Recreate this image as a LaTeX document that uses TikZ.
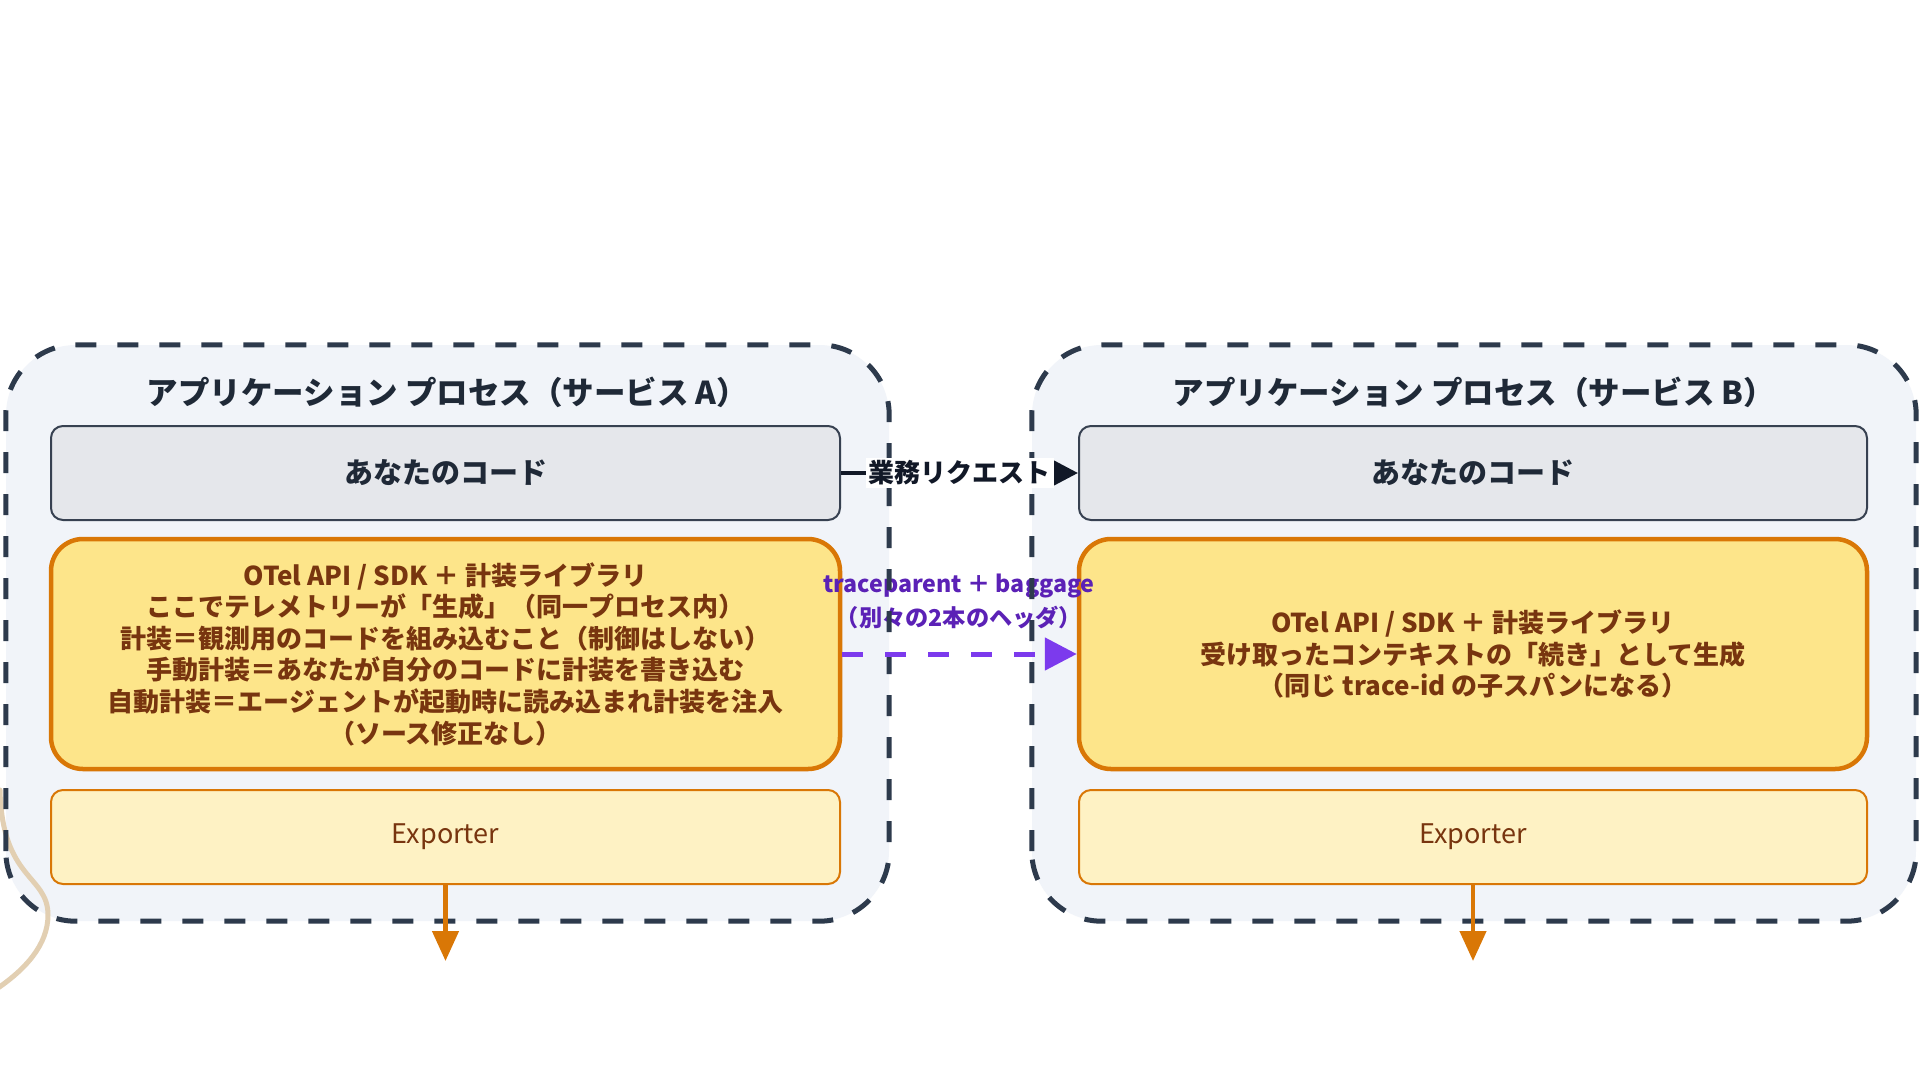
\documentclass[tikz,border=0pt]{standalone}
\usepackage{fontspec}
\setmainfont{Noto Sans CJK JP}
\usetikzlibrary{arrows.meta}
\definecolor{contfill}{HTML}{F1F4F9}
\definecolor{contline}{HTML}{2D3A4C}
\definecolor{codefill}{HTML}{E5E7EB}
\definecolor{codeline}{HTML}{374151}
\definecolor{otelfill}{HTML}{FDE58A}
\definecolor{otelline}{HTML}{D97706}
\definecolor{expfill}{HTML}{FEF2C4}
\definecolor{browntext}{HTML}{78350F}
\definecolor{inktext}{HTML}{1F2937}
\definecolor{reqline}{HTML}{111827}
\definecolor{purpline}{HTML}{7C3AED}
\definecolor{purptext}{HTML}{5B21B6}
\definecolor{beigeline}{HTML}{E2CFB2}
\tikzset{
  contbox/.style={fill=contfill, draw=none, rounded corners=70pt, inner sep=0pt,
    minimum width=883pt, minimum height=576pt},
  contborder/.style={draw=contline, line width=5pt, rounded corners=70pt,
    dash pattern=on 21pt off 21pt},
  titletext/.style={text=inktext, font=\bfseries\fontsize{31.5}{36}\selectfont, inner sep=0pt},
  codebox/.style={fill=codefill, draw=codeline, line width=2pt, rounded corners=12pt,
    minimum width=789pt, minimum height=94pt, inner sep=0pt, text=inktext,
    font=\bfseries\fontsize{29}{32}\selectfont},
  otelbox/.style={fill=otelfill, draw=otelline, line width=4.5pt, rounded corners=32pt,
    minimum width=789pt, minimum height=230pt, inner sep=0pt, text=browntext, align=center,
    font=\bfseries\fontsize{26}{31.6}\selectfont},
  expbox/.style={fill=expfill, draw=otelline, line width=2pt, rounded corners=12pt,
    minimum width=789pt, minimum height=94pt, inner sep=0pt, text=browntext,
    font=\fontsize{27}{32}\selectfont},
  exparrow/.style={draw=otelline, line width=4.5pt, -{Triangle[length=30pt,width=26pt]}},
  reqarrow/.style={draw=reqline, line width=4.5pt, -{Triangle[length=26pt,width=26pt]}},
  reqlabel/.style={fill=white, text=reqline, inner sep=3pt,
    font=\bfseries\fontsize{26}{30}\selectfont},
  purparrow/.style={draw=purpline, line width=5pt, dash pattern=on 21pt off 22pt,
    -{Triangle[length=32pt,width=32pt]}},
  purplabel/.style={text=purptext, align=center, inner sep=0pt,
    font=\bfseries\fontsize{23.2}{34}\selectfont},
}
\begin{document}
\begin{tikzpicture}[x=1pt,y=-1pt]
\useasboundingbox[fill=white] (0,0) rectangle (1920,1080);

% container fills
\node[contbox] (ca) at (447.5,633) {};
\node[contbox, minimum width=884pt] (cb) at (1474,633) {};

% faint shape at the left edge
\begin{scope}
  \clip (0,0) rectangle (1920,1080);
  \draw[beigeline, line width=5pt, line cap=round]
    (0,790) .. controls (2,880) and (48,875) .. (48,915)
    .. controls (48,945) and (25,970) .. (-5,990);
\end{scope}

% service A
\node[codebox] (codeA) at (445.5,473) {あなたのコード};
\node[otelbox] (otelA) at (445.5,654) {OTel API / SDK ＋ 計装ライブラリ\\
ここでテレメトリーが「生成」（同一プロセス内）\\
計装＝観測用のコードを組み込むこと（制御はしない）\\
手動計装＝あなたが自分のコードに計装を書き込む\\
自動計装＝エージェントが起動時に読み込まれ計装を注入\\
（ソース修正なし）};
\node[expbox] (expA) at (445.5,837) {Exporter};

% service B
\node[codebox, minimum width=788pt] (codeB) at (1473,473) {あなたのコード};
\node[otelbox, minimum width=788pt] (otelB) at (1473,654) {OTel API / SDK ＋ 計装ライブラリ\\
受け取ったコンテキストの「続き」として生成\\
（同じ trace-id の子スパンになる）};
\node[expbox, minimum width=788pt] (expB) at (1473,837) {Exporter};

% purple labels (under the dashed borders)
\node[purplabel] (tp) at (959,601) {traceparent ＋ baggage\\（別々の2本のヘッダ）};

% container borders
\draw[contborder] (ca.south west) rectangle (ca.north east);
\draw[contborder] (cb.south west) rectangle (cb.north east);

% titles
\node[titletext] (ta) at (447.5,392) {アプリケーション プロセス（サービス A）};
\node[titletext] (tb) at (1474,392) {アプリケーション プロセス（サービス B）};

% exporter outputs
\coordinate (outA) at (445.5,961);
\coordinate (outB) at (1473,961);
\draw[exparrow] (expA.south) -- (outA);
\draw[exparrow] (expB.south) -- (outB);

% connectors between services
\draw[reqarrow] (codeA.east) -- (codeB.west)
  node[reqlabel, pos=0.5] (req) {業務リクエスト};
\draw[purparrow] (otelA.east) -- (otelB.west);
\end{tikzpicture}
\end{document}
